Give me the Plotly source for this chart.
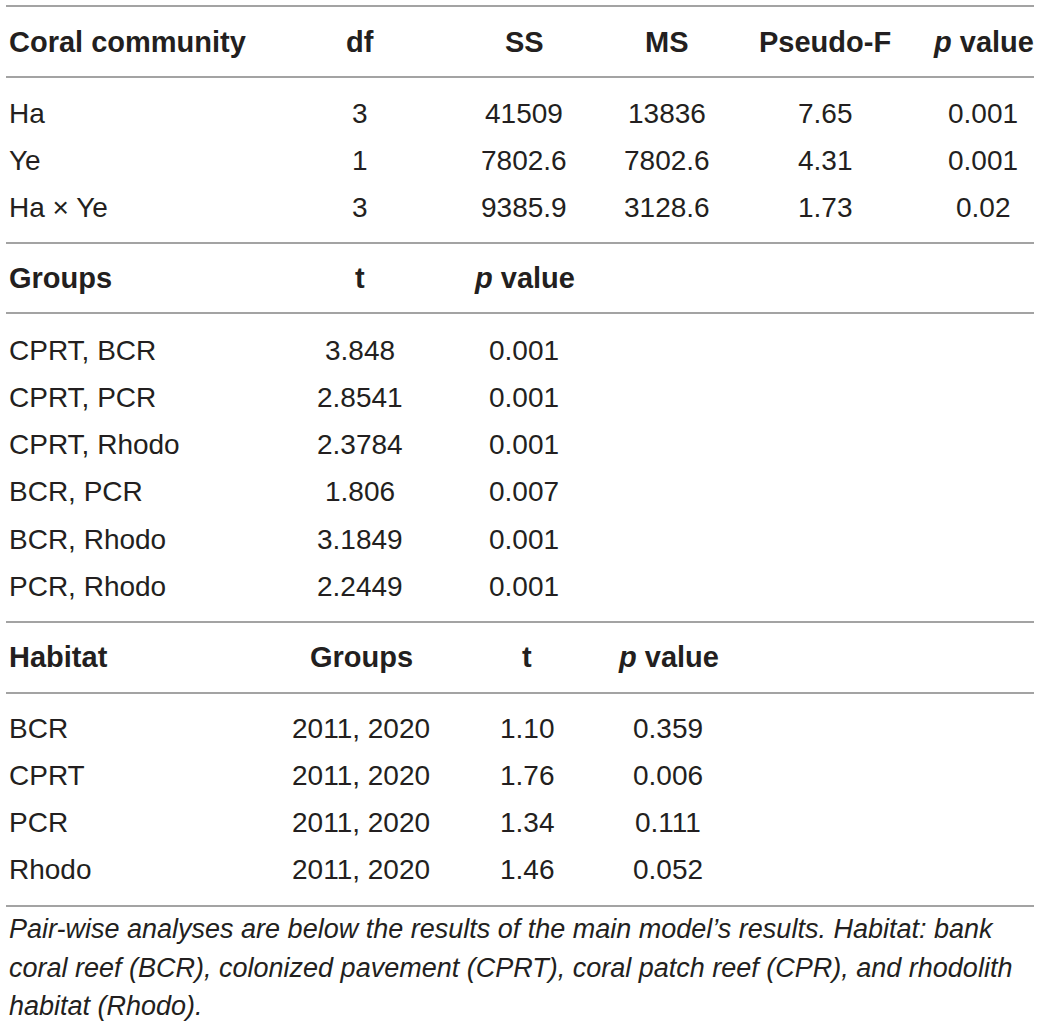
import plotly.graph_objects as go

# ---------------- TABLE DATA ----------------
main_header = ["Coral community", "df", "SS", "MS", "Pseudo-F", "<i>p</i> value"]
main_terms = ["Ha", "Ye", "Ha × Ye"]
main_df = ["3", "1", "3"]
main_ss = ["41509", "7802.6", "9385.9"]
main_ms = ["13836", "7802.6", "3128.6"]
main_f = ["7.65", "4.31", "1.73"]
main_p = ["0.001", "0.001", "0.02"]

pair_header = ["Groups", "t", "<i>p</i> value"]
pair_groups = ["CPRT, BCR", "CPRT, PCR", "CPRT, Rhodo", "BCR, PCR", "BCR, Rhodo", "PCR, Rhodo"]
pair_t = ["3.848", "2.8541", "2.3784", "1.806", "3.1849", "2.2449"]
pair_p = ["0.001", "0.001", "0.001", "0.007", "0.001", "0.001"]

hab_header = ["Habitat", "Groups", "t", "<i>p</i> value"]
hab_names = ["BCR", "CPRT", "PCR", "Rhodo"]
hab_groups = ["2011, 2020", "2011, 2020", "2011, 2020", "2011, 2020"]
hab_t = ["1.10", "1.76", "1.34", "1.46"]
hab_p = ["0.359", "0.006", "0.111", "0.052"]

caption_lines = [
    "Pair-wise analyses are below the results of the main model’s results. Habitat: bank",
    "coral reef (BCR), colonized pavement (CPRT), coral patch reef (CPR), and rhodolith",
    "habitat (Rhodo).",
]

# ---------------- LAYOUT SETTINGS ----------------
W, H = 1041, 1029
FONT = "Liberation Sans, Arial, Helvetica, sans-serif"
TXT = "#231f20"
RULE = "#a3a3a3"
FS = 28
PITCH = 47.3
LEFT = 7
X0, X1 = 6, 1034

fig = go.Figure()
annotations = []
shapes = []


def rule(y):
    shapes.append(dict(type="line", xref="x", yref="y", x0=X0, x1=X1, y0=y, y1=y,
                       line=dict(color=RULE, width=2)))


def cell(text, x, y, anchor="center", bold=False, italic=False, size=FS):
    if bold:
        text = f"<b>{text}</b>"
    if italic:
        text = f"<i>{text}</i>"
    annotations.append(dict(x=x, y=y, xref="x", yref="y", text=text, showarrow=False,
                            xanchor=anchor, yanchor="middle", align="left",
                            font=dict(family=FONT, size=size, color=TXT)))


# ---------------- BLOCK 1: MAIN MODEL ----------------
main_cols = [360, 524, 667, 825, 983]
rule(6)
cell(main_header[0], LEFT, 42, "left", bold=True, size=29)
for cx, h in zip(main_cols, main_header[1:]):
    cell(h, cx, 42, bold=True, size=29)
rule(77)
for i, term in enumerate(main_terms):
    y = 113 + i * PITCH
    cell(term, LEFT, y, "left")
    for cx, col in zip(main_cols, [main_df, main_ss, main_ms, main_f, main_p]):
        cell(col[i], cx, y)
rule(243)

# ---------------- BLOCK 2: PAIR-WISE GROUPS ----------------
pair_cols = [360, 524]
cell(pair_header[0], LEFT, 278, "left", bold=True, size=29)
for cx, h in zip(pair_cols, pair_header[1:]):
    cell(h, cx, 278, bold=True, size=29)
rule(313)
for i, g in enumerate(pair_groups):
    y = 350 + i * PITCH
    cell(g, LEFT, y, "left")
    cell(pair_t[i], pair_cols[0], y)
    cell(pair_p[i], pair_cols[1], y)
rule(622)

# ---------------- BLOCK 3: HABITAT ----------------
hab_cols = [361, 527, 668]
cell(hab_header[0], LEFT, 657, "left", bold=True, size=29)
for cx, h in zip(hab_cols, hab_header[1:]):
    cell(h, cx, 657, bold=True, size=29)
rule(693)
for i, name in enumerate(hab_names):
    y = 728 + i * PITCH
    cell(name, LEFT, y, "left")
    cell(hab_groups[i], hab_cols[0], y)
    cell(hab_t[i], hab_cols[1], y)
    cell(hab_p[i], hab_cols[2], y)
rule(906)

# ---------------- CAPTION ----------------
for i, line in enumerate(caption_lines):
    cell(line, LEFT, 929 + i * 38.5, "left", italic=True, size=27)

fig.update_layout(
    width=W, height=H,
    margin=dict(l=0, r=0, t=0, b=0),
    paper_bgcolor="white", plot_bgcolor="white",
    xaxis=dict(range=[0, W], visible=False, fixedrange=True),
    yaxis=dict(range=[H, 0], visible=False, fixedrange=True),
    annotations=annotations,
    shapes=shapes,
    showlegend=False,
)

# page body has a default 8px margin; drop it so the figure sits at the corner
fig.write_html("out.html", config={"displayModeBar": False},
               post_script="document.body.style.margin='0';")
